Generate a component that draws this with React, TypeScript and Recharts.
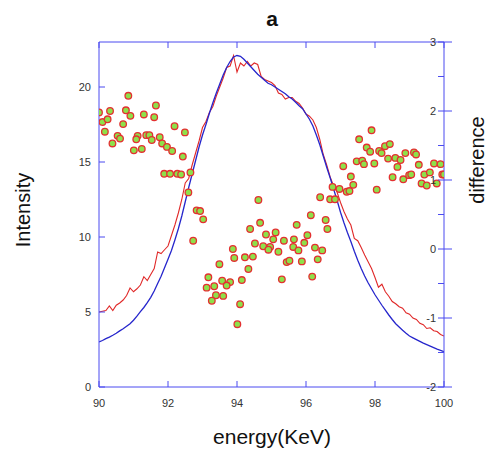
import { ComposedChart, Line, Scatter, XAxis, YAxis } from "recharts";

const energy = [
  90.0, 90.1, 90.2, 90.3, 90.4, 90.5, 90.6, 90.7, 90.8, 90.9,
  91.0, 91.1, 91.2, 91.3, 91.4, 91.5, 91.6, 91.7, 91.8, 91.9,
  92.0, 92.1, 92.2, 92.3, 92.4, 92.5, 92.6, 92.7, 92.8, 92.9,
  93.0, 93.1, 93.2, 93.3, 93.4, 93.5, 93.6, 93.7, 93.8, 93.9,
  94.0, 94.1, 94.2, 94.3, 94.4, 94.5, 94.6, 94.7, 94.8, 94.9,
  95.0, 95.1, 95.2, 95.3, 95.4, 95.5, 95.6, 95.7, 95.8, 95.9,
  96.0, 96.1, 96.2, 96.3, 96.4, 96.5, 96.6, 96.7, 96.8, 96.9,
  97.0, 97.1, 97.2, 97.3, 97.4, 97.5, 97.6, 97.7, 97.8, 97.9,
  98.0, 98.1, 98.2, 98.3, 98.4, 98.5, 98.6, 98.7, 98.8, 98.9,
  99.0, 99.1, 99.2, 99.3, 99.4, 99.5, 99.6, 99.7, 99.8, 99.9,
  100.0,
];

// blue curve (fit)
const fitIntensity = [
  3.0, 3.1, 3.22, 3.33, 3.45, 3.58, 3.74, 3.88, 4.05, 4.22,
  4.45, 4.72, 5.02, 5.3, 5.62, 5.98, 6.4, 6.9, 7.38, 7.95,
  8.52, 9.1, 9.8, 10.55, 11.4, 12.35, 13.3, 14.2, 15.1, 16.0,
  16.8, 17.5, 18.25, 18.95, 19.6, 20.2, 20.8, 21.3, 21.7, 22.0,
  22.1, 22.05, 21.85, 21.6, 21.35, 21.1, 20.85, 20.65, 20.45, 20.25,
  20.15, 20.0, 19.85, 19.7, 19.55, 19.35, 19.2, 18.98, 18.75, 18.55,
  18.2, 17.85, 17.4, 16.8, 16.15, 15.4, 14.65, 13.95, 13.2, 12.45,
  11.65, 10.95, 10.3, 9.7, 9.05, 8.45, 7.9, 7.4, 6.95, 6.55,
  6.15, 5.8, 5.45, 5.12, 4.8, 4.5, 4.22, 4.0, 3.78, 3.58,
  3.4, 3.28, 3.16, 3.04, 2.92, 2.82, 2.72, 2.62, 2.52, 2.44,
  2.36,
];

// red curve (measured)
const measuredIntensity = [
  5.0, 5.05, 5.1, 5.4, 5.1, 5.45, 5.6, 5.8, 6.1, 6.6,
  6.35, 6.55, 6.8, 7.35, 7.1, 7.5, 7.9, 9.0, 8.9, 9.15,
  9.4, 10.1, 10.8, 11.6, 12.5, 13.6, 13.9, 14.8, 15.6, 16.4,
  17.3, 17.7, 18.3, 18.7, 19.4, 20.0, 20.6, 21.3, 21.4, 22.1,
  21.0, 21.6, 21.4, 21.7, 21.4, 21.6, 21.5, 20.7, 20.5, 20.4,
  20.3, 20.1, 19.6, 19.5, 19.2, 19.3, 19.3, 19.05, 18.9, 18.6,
  18.2, 18.05, 17.8, 17.3, 16.5, 15.5, 14.8, 14.0, 13.4, 13.0,
  12.3, 11.7, 11.2, 10.8, 9.9, 9.75, 9.3, 8.8, 8.35, 7.9,
  7.3, 6.65, 6.85, 6.35, 6.05, 5.7, 5.55, 5.35, 5.25, 4.95,
  4.85, 4.6, 4.5, 4.25, 4.15, 3.9, 3.95, 3.75, 3.7, 3.5,
  3.4,
];

const diffEnergy = [
  90.0, 90.85, 90.32, 90.1, 90.25, 90.78, 90.91, 91.3, 91.65, 91.6,
  90.17, 90.7, 90.54, 90.61, 90.39, 91.12, 91.08, 91.37, 91.46, 91.53,
  91.76, 92.19, 92.49, 91.01, 91.24, 91.83, 91.97, 92.12, 92.43, 91.89,
  92.06, 92.27, 92.38, 92.65, 92.59, 92.83, 92.93, 93.02, 92.73, 94.62,
  94.67, 94.38, 94.84, 95.12, 95.73, 95.05, 95.36, 95.65, 94.52, 94.76,
  94.96, 93.88, 94.91, 95.2, 95.63, 95.78, 93.92, 94.23, 94.46, 93.49,
  94.33, 95.44, 95.52, 93.17, 93.57, 93.8, 93.7, 93.12, 93.34, 94.14,
  95.3, 93.39, 93.6, 93.27, 94.09, 94.01, 97.3, 97.37, 96.77, 96.97,
  97.18, 97.26, 98.05, 96.41, 96.7, 96.84, 96.14, 96.57, 96.62, 96.04,
  95.95, 96.26, 96.47, 95.88, 96.34, 96.18, 97.9, 97.54, 97.76, 97.86,
  98.29, 98.43, 98.12, 98.19, 97.47, 97.63, 97.68, 97.98, 98.38, 98.59,
  98.74, 98.88, 99.13, 99.19, 99.27, 98.65, 97.08, 99.71, 99.9, 99.43,
  99.59, 99.95, 100.0, 98.51, 98.82, 98.99, 99.05, 99.35, 99.5, 99.79,
];

const diffValue = [
  1.98, 2.22, 2.0, 1.84, 1.88, 2.01, 1.93, 1.95, 2.08, 1.91,
  1.7, 1.81, 1.64, 1.6, 1.53, 1.64, 1.59, 1.65, 1.65, 1.58,
  1.62, 1.78, 1.69, 1.43, 1.45, 1.53, 1.48, 1.42, 1.34, 1.09,
  1.09, 1.09, 1.08, 1.11, 0.82, 0.56, 0.55, 0.43, 0.12, 0.71,
  0.38, 0.29, 0.21, 0.24, 0.35, 0.14, 0.12, 0.14, 0.08, 0.04,
  0.03, 0.0, -0.01, -0.04, 0.03, -0.02, -0.13, -0.12, -0.11, -0.22,
  -0.29, -0.19, -0.17, -0.41, -0.46, -0.48, -0.53, -0.56, -0.54, -0.45,
  -0.44, -0.67, -0.68, -0.75, -0.8, -1.09, 1.05, 0.93, 0.9, 0.87,
  0.83, 0.84, 0.86, 0.75, 0.72, 0.72, 0.49, 0.42, 0.29, 0.2,
  0.09, 0.02, -0.02, -0.18, -0.15, -0.4, 1.72, 1.59, 1.47, 1.41,
  1.49, 1.52, 1.42, 1.39, 1.27, 1.28, 1.23, 1.24, 1.31, 1.32,
  1.29, 1.39, 1.4, 1.37, 1.22, 1.19, 1.2, 1.24, 1.23, 1.08,
  1.11, 1.08, 1.08, 1.04, 1.01, 1.07, 1.08, 0.95, 0.92, 0.95,
];

const xTicks = [90, 92, 94, 96, 98, 100];
const leftTicks = [0, 5, 10, 15, 20];
const rightTicks = [-2, -1.5, -1, -0.5, 0, 0.5, 1, 1.5, 2, 2.5, 3];

const AXIS = "#4b4bf0";
const LABEL = "#333";
const FONT = "'Liberation Sans', Arial, sans-serif";

const fitData = energy.map((x, i) => ({ x, y: fitIntensity[i] }));
const measuredData = energy.map((x, i) => ({ x, y: measuredIntensity[i] }));
const diffData = diffEnergy.map((x, i) => ({ x, y: diffValue[i] }));

const BottomTick = ({ x, y, payload }: any) => (
  <g>
    <line x1={x} x2={x} y1={y} y2={y - 6} stroke={AXIS} />
    <text x={x} y={y + 20} textAnchor="middle" fontSize={11} fill={LABEL} fontFamily={FONT}>
      {payload.value}
    </text>
  </g>
);

const TopTick = ({ x, y }: any) => <line x1={x} x2={x} y1={y} y2={y + 6} stroke={AXIS} />;

const LeftTick = ({ x, y, payload }: any) => (
  <g>
    <line x1={x} x2={x + 6} y1={y} y2={y} stroke={AXIS} />
    <text x={x - 8} y={y + 4} textAnchor="end" fontSize={11} fill={LABEL} fontFamily={FONT}>
      {payload.value}
    </text>
  </g>
);

const RightTick = ({ x, y, payload }: any) => {
  const major = Number.isInteger(payload.value);
  return (
    <g>
      <line x1={x - 6} x2={major ? x + 8 : x} y1={y} y2={y} stroke={AXIS} />
      {major && (
        <text x={x - 8} y={y + 4} textAnchor="end" fontSize={11} fill={LABEL} fontFamily={FONT}>
          {payload.value}
        </text>
      )}
    </g>
  );
};

const DiffDot = (props: any) => (
  <circle cx={props.cx} cy={props.cy} r={3.3} fill="#8ee04a" stroke="#e33030" strokeWidth={1.3} />
);

const App = () => {
  return (
    <div
      style={{
        position: "absolute",
        left: 0,
        top: 0,
        width: 491,
        height: 449,
        background: "#fff",
        fontFamily: FONT,
      }}
    >
      <ComposedChart width={491} height={449} margin={{ top: 41, right: 0, bottom: 0, left: 0 }}>
        <XAxis
          xAxisId="bottom"
          type="number"
          dataKey="x"
          domain={[90, 100]}
          ticks={xTicks}
          interval={0}
          height={62}
          allowDataOverflow
          axisLine={{ stroke: AXIS }}
          tickLine={false}
          tickSize={0}
          tickMargin={0}
          tick={<BottomTick />}
        />
        <XAxis
          xAxisId="top"
          orientation="top"
          type="number"
          dataKey="x"
          domain={[90, 100]}
          ticks={xTicks}
          interval={0}
          height={1}
          allowDataOverflow
          axisLine={{ stroke: AXIS }}
          tickLine={false}
          tickSize={0}
          tickMargin={0}
          tick={<TopTick />}
        />
        <YAxis
          yAxisId="left"
          type="number"
          domain={[0, 23]}
          ticks={leftTicks}
          interval={0}
          width={99}
          allowDataOverflow
          axisLine={{ stroke: AXIS }}
          tickLine={false}
          tickSize={0}
          tickMargin={0}
          tick={<LeftTick />}
        />
        <YAxis
          yAxisId="right"
          orientation="right"
          type="number"
          domain={[-2, 3]}
          ticks={rightTicks}
          interval={0}
          width={47}
          allowDataOverflow
          axisLine={{ stroke: AXIS }}
          tickLine={false}
          tickSize={0}
          tickMargin={0}
          tick={<RightTick />}
        />
        <Line
          xAxisId="bottom"
          yAxisId="left"
          data={measuredData}
          dataKey="y"
          type="linear"
          stroke="#e02828"
          strokeWidth={1.1}
          dot={false}
          isAnimationActive={false}
        />
        <Line
          xAxisId="bottom"
          yAxisId="left"
          data={fitData}
          dataKey="y"
          type="linear"
          stroke="#2626cc"
          strokeWidth={1.3}
          dot={false}
          isAnimationActive={false}
        />
        <Scatter
          xAxisId="bottom"
          yAxisId="right"
          data={diffData}
          dataKey="y"
          shape={<DiffDot />}
          isAnimationActive={false}
        />
      </ComposedChart>
      <div
        style={{
          position: "absolute",
          left: 272,
          top: 19,
          transform: "translate(-50%, -50%)",
          fontSize: 21,
          fontWeight: "bold",
          color: "#111",
        }}
      >
        a
      </div>
      <div
        style={{
          position: "absolute",
          left: 23,
          top: 210,
          transform: "translate(-50%, -50%) rotate(-90deg)",
          fontSize: 20,
          color: "#111",
          whiteSpace: "nowrap",
        }}
      >
        Intensity
      </div>
      <div
        style={{
          position: "absolute",
          left: 477,
          top: 160,
          transform: "translate(-50%, -50%) rotate(-90deg)",
          fontSize: 20,
          color: "#111",
          whiteSpace: "nowrap",
        }}
      >
        difference
      </div>
      <div
        style={{
          position: "absolute",
          left: 272,
          top: 437,
          transform: "translate(-50%, -50%)",
          fontSize: 21,
          color: "#111",
          whiteSpace: "nowrap",
        }}
      >
        energy(KeV)
      </div>
    </div>
  );
};

export default App;
